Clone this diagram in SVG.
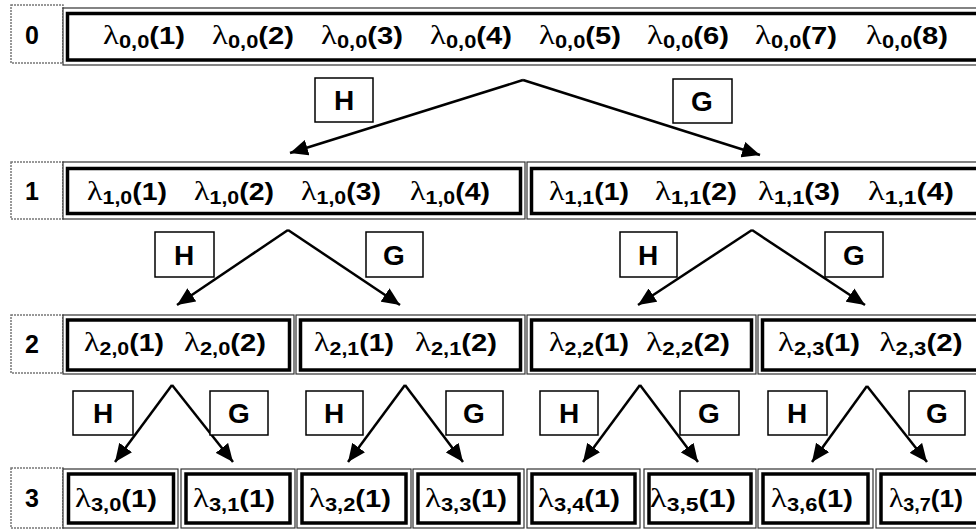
<svg xmlns="http://www.w3.org/2000/svg" width="976" height="529" viewBox="0 0 976 529">
<style>
.bg{fill:#fff}
.lbl{fill:#fff;stroke:#777;stroke-width:1.5;stroke-dasharray:2 1}
.lt{font-family:"Liberation Sans",Arial,sans-serif;font-weight:bold;font-size:25px;fill:#000;text-anchor:middle}
.outer{fill:#fff;stroke:#333;stroke-width:1.2}
.inner{fill:none;stroke:#000;stroke-width:3.5}
.t{font-family:"Liberation Sans",Arial,sans-serif;font-weight:bold;font-size:24px;fill:#000;text-anchor:middle}
.lam{font-family:"Liberation Serif","Times New Roman",serif;font-weight:normal;font-size:27px}
.sub{font-size:18px}
.op{fill:#fff;stroke:#000;stroke-width:1.5}
.ot{font-family:"Liberation Sans",Arial,sans-serif;font-weight:bold;font-size:28px;fill:#000;text-anchor:middle}
.c{fill:none;stroke:#000;stroke-width:2.5}
</style>
<defs>
<marker id="ah" markerUnits="userSpaceOnUse" markerWidth="20" markerHeight="16" refX="18" refY="8" orient="auto">
<path d="M0,0 L18,8 L0,16 z" fill="#000"/>
</marker>
</defs>
<rect class="bg" x="0" y="0" width="976" height="529"/>

<g id="levels">
<g id="level0"><rect class="lbl" x="11" y="5" width="52" height="58"/><text class="lt" x="32" y="44">0</text></g>
<g id="level1"><rect class="lbl" x="11" y="162" width="52" height="57"/><text class="lt" x="32" y="200">1</text></g>
<g id="level2"><rect class="lbl" x="11" y="315" width="52" height="58"/><text class="lt" x="32" y="353">2</text></g>
<g id="level3"><rect class="lbl" x="11" y="468" width="52" height="60"/><text class="lt" x="32" y="507">3</text></g>
</g>

<g id="n00">
<rect class="outer" x="63" y="8" width="930" height="57"/>
<rect class="inner" x="67.5" y="13.5" width="920" height="46.5"/>
<text class="t" x="144" y="44" textLength="82" lengthAdjust="spacingAndGlyphs"><tspan class="lam">λ</tspan><tspan class="sub" dy="4">0,0</tspan><tspan dy="-4">(1)</tspan></text>
<text class="t" x="253" y="44" textLength="82" lengthAdjust="spacingAndGlyphs"><tspan class="lam">λ</tspan><tspan class="sub" dy="4">0,0</tspan><tspan dy="-4">(2)</tspan></text>
<text class="t" x="362" y="44" textLength="82" lengthAdjust="spacingAndGlyphs"><tspan class="lam">λ</tspan><tspan class="sub" dy="4">0,0</tspan><tspan dy="-4">(3)</tspan></text>
<text class="t" x="471" y="44" textLength="82" lengthAdjust="spacingAndGlyphs"><tspan class="lam">λ</tspan><tspan class="sub" dy="4">0,0</tspan><tspan dy="-4">(4)</tspan></text>
<text class="t" x="580" y="44" textLength="82" lengthAdjust="spacingAndGlyphs"><tspan class="lam">λ</tspan><tspan class="sub" dy="4">0,0</tspan><tspan dy="-4">(5)</tspan></text>
<text class="t" x="688" y="44" textLength="82" lengthAdjust="spacingAndGlyphs"><tspan class="lam">λ</tspan><tspan class="sub" dy="4">0,0</tspan><tspan dy="-4">(6)</tspan></text>
<text class="t" x="796" y="44" textLength="82" lengthAdjust="spacingAndGlyphs"><tspan class="lam">λ</tspan><tspan class="sub" dy="4">0,0</tspan><tspan dy="-4">(7)</tspan></text>
<text class="t" x="907" y="44" textLength="82" lengthAdjust="spacingAndGlyphs"><tspan class="lam">λ</tspan><tspan class="sub" dy="4">0,0</tspan><tspan dy="-4">(8)</tspan></text>
</g>

<g id="n10">
<rect class="outer" x="63" y="162" width="462" height="57"/>
<rect class="inner" x="67.5" y="168.5" width="453" height="45"/>
<text class="t" x="127" y="200" textLength="80" lengthAdjust="spacingAndGlyphs"><tspan class="lam">λ</tspan><tspan class="sub" dy="4">1,0</tspan><tspan dy="-4">(1)</tspan></text>
<text class="t" x="234" y="200" textLength="80" lengthAdjust="spacingAndGlyphs"><tspan class="lam">λ</tspan><tspan class="sub" dy="4">1,0</tspan><tspan dy="-4">(2)</tspan></text>
<text class="t" x="341" y="200" textLength="80" lengthAdjust="spacingAndGlyphs"><tspan class="lam">λ</tspan><tspan class="sub" dy="4">1,0</tspan><tspan dy="-4">(3)</tspan></text>
<text class="t" x="450" y="200" textLength="80" lengthAdjust="spacingAndGlyphs"><tspan class="lam">λ</tspan><tspan class="sub" dy="4">1,0</tspan><tspan dy="-4">(4)</tspan></text>
</g>
<g id="n11">
<rect class="outer" x="527" y="162" width="466" height="57"/>
<rect class="inner" x="531.5" y="168.5" width="457" height="45"/>
<text class="t" x="589" y="200" textLength="80" lengthAdjust="spacingAndGlyphs"><tspan class="lam">λ</tspan><tspan class="sub" dy="4">1,1</tspan><tspan dy="-4">(1)</tspan></text>
<text class="t" x="696" y="200" textLength="82" lengthAdjust="spacingAndGlyphs"><tspan class="lam">λ</tspan><tspan class="sub" dy="4">1,1</tspan><tspan dy="-4">(2)</tspan></text>
<text class="t" x="799" y="200" textLength="82" lengthAdjust="spacingAndGlyphs"><tspan class="lam">λ</tspan><tspan class="sub" dy="4">1,1</tspan><tspan dy="-4">(3)</tspan></text>
<text class="t" x="911" y="200" textLength="86" lengthAdjust="spacingAndGlyphs"><tspan class="lam">λ</tspan><tspan class="sub" dy="4">1,1</tspan><tspan dy="-4">(4)</tspan></text>
</g>

<g id="n20">
<rect class="outer" x="63" y="315" width="231" height="59"/>
<rect class="inner" x="67.5" y="320" width="222" height="50"/>
<text class="t" x="124" y="351" textLength="80" lengthAdjust="spacingAndGlyphs"><tspan class="lam">λ</tspan><tspan class="sub" dy="4">2,0</tspan><tspan dy="-4">(1)</tspan></text>
<text class="t" x="225" y="351" textLength="82" lengthAdjust="spacingAndGlyphs"><tspan class="lam">λ</tspan><tspan class="sub" dy="4">2,0</tspan><tspan dy="-4">(2)</tspan></text>
</g>
<g id="n21">
<rect class="outer" x="296" y="315" width="229" height="59"/>
<rect class="inner" x="300.5" y="320" width="220" height="50"/>
<text class="t" x="354" y="351" textLength="80" lengthAdjust="spacingAndGlyphs"><tspan class="lam">λ</tspan><tspan class="sub" dy="4">2,1</tspan><tspan dy="-4">(1)</tspan></text>
<text class="t" x="456" y="351" textLength="82" lengthAdjust="spacingAndGlyphs"><tspan class="lam">λ</tspan><tspan class="sub" dy="4">2,1</tspan><tspan dy="-4">(2)</tspan></text>
</g>
<g id="n22">
<rect class="outer" x="527" y="315" width="229" height="59"/>
<rect class="inner" x="531.5" y="320" width="220" height="50"/>
<text class="t" x="589" y="351" textLength="80" lengthAdjust="spacingAndGlyphs"><tspan class="lam">λ</tspan><tspan class="sub" dy="4">2,2</tspan><tspan dy="-4">(1)</tspan></text>
<text class="t" x="688" y="351" textLength="84" lengthAdjust="spacingAndGlyphs"><tspan class="lam">λ</tspan><tspan class="sub" dy="4">2,2</tspan><tspan dy="-4">(2)</tspan></text>
</g>
<g id="n23">
<rect class="outer" x="758" y="315" width="235" height="59"/>
<rect class="inner" x="762.5" y="320" width="226" height="50"/>
<text class="t" x="819" y="351" textLength="82" lengthAdjust="spacingAndGlyphs"><tspan class="lam">λ</tspan><tspan class="sub" dy="4">2,3</tspan><tspan dy="-4">(1)</tspan></text>
<text class="t" x="921" y="351" textLength="83" lengthAdjust="spacingAndGlyphs"><tspan class="lam">λ</tspan><tspan class="sub" dy="4">2,3</tspan><tspan dy="-4">(2)</tspan></text>
</g>

<g id="n30">
<rect class="outer" x="63" y="469" width="115" height="59"/>
<rect class="inner" x="68.5" y="474" width="105" height="49"/>
<text class="t" x="116" y="507" textLength="82" lengthAdjust="spacingAndGlyphs"><tspan class="lam">λ</tspan><tspan class="sub" dy="4">3,0</tspan><tspan dy="-4">(1)</tspan></text>
</g>
<g id="n31">
<rect class="outer" x="181" y="469" width="114" height="59"/>
<rect class="inner" x="186" y="474" width="104" height="49"/>
<text class="t" x="234" y="507" textLength="82" lengthAdjust="spacingAndGlyphs"><tspan class="lam">λ</tspan><tspan class="sub" dy="4">3,1</tspan><tspan dy="-4">(1)</tspan></text>
</g>
<g id="n32">
<rect class="outer" x="297" y="469" width="114" height="59"/>
<rect class="inner" x="302" y="474" width="104" height="49"/>
<text class="t" x="350" y="507" textLength="82" lengthAdjust="spacingAndGlyphs"><tspan class="lam">λ</tspan><tspan class="sub" dy="4">3,2</tspan><tspan dy="-4">(1)</tspan></text>
</g>
<g id="n33">
<rect class="outer" x="413" y="469" width="111" height="59"/>
<rect class="inner" x="418" y="474" width="101" height="49"/>
<text class="t" x="466" y="507" textLength="82" lengthAdjust="spacingAndGlyphs"><tspan class="lam">λ</tspan><tspan class="sub" dy="4">3,3</tspan><tspan dy="-4">(1)</tspan></text>
</g>
<g id="n34">
<rect class="outer" x="527" y="469" width="113" height="59"/>
<rect class="inner" x="532" y="474" width="103" height="49"/>
<text class="t" x="579" y="507" textLength="82" lengthAdjust="spacingAndGlyphs"><tspan class="lam">λ</tspan><tspan class="sub" dy="4">3,4</tspan><tspan dy="-4">(1)</tspan></text>
</g>
<g id="n35">
<rect class="outer" x="644" y="469" width="112" height="59"/>
<rect class="inner" x="649" y="474" width="102" height="49"/>
<text class="t" x="693" y="507" textLength="86" lengthAdjust="spacingAndGlyphs"><tspan class="lam">λ</tspan><tspan class="sub" dy="4">3,5</tspan><tspan dy="-4">(1)</tspan></text>
</g>
<g id="n36">
<rect class="outer" x="758" y="469" width="115" height="59"/>
<rect class="inner" x="763" y="474" width="105" height="49"/>
<text class="t" x="812" y="507" textLength="82" lengthAdjust="spacingAndGlyphs"><tspan class="lam">λ</tspan><tspan class="sub" dy="4">3,6</tspan><tspan dy="-4">(1)</tspan></text>
</g>
<g id="n37">
<rect class="outer" x="876" y="469" width="117" height="59"/>
<rect class="inner" x="881" y="474" width="107" height="49"/>
<text class="t" x="926" y="507" textLength="74" lengthAdjust="spacingAndGlyphs"><tspan class="lam">λ</tspan><tspan class="sub" dy="4">3,7</tspan><tspan dy="-4">(1)</tspan></text>
</g>

<g id="connectors">
<polyline class="c" points="523,80 290,153" marker-end="url(#ah)"/>
<polyline class="c" points="523,80 760,155" marker-end="url(#ah)"/>
<polyline class="c" points="288,230 177,305" marker-end="url(#ah)"/>
<polyline class="c" points="288,230 400,305" marker-end="url(#ah)"/>
<polyline class="c" points="752,230 638,305" marker-end="url(#ah)"/>
<polyline class="c" points="752,230 865,305" marker-end="url(#ah)"/>
<polyline class="c" points="172,385 115,462" marker-end="url(#ah)"/>
<polyline class="c" points="172,385 233,462" marker-end="url(#ah)"/>
<polyline class="c" points="405,385 348,462" marker-end="url(#ah)"/>
<polyline class="c" points="405,385 463,462" marker-end="url(#ah)"/>
<polyline class="c" points="640,385 583,462" marker-end="url(#ah)"/>
<polyline class="c" points="640,385 698,462" marker-end="url(#ah)"/>
<polyline class="c" points="867,386 812,462" marker-end="url(#ah)"/>
<polyline class="c" points="867,386 927,462" marker-end="url(#ah)"/>
</g>

<g id="filters">
<g id="h0"><rect class="op" x="315" y="78" width="58" height="44"/><text class="ot" x="344" y="110">H</text></g>
<g id="g0"><rect class="op" x="673" y="79" width="59" height="44"/><text class="ot" x="702" y="111">G</text></g>
<g id="h10"><rect class="op" x="155" y="232" width="59" height="45"/><text class="ot" x="184" y="265">H</text></g>
<g id="g10"><rect class="op" x="366" y="232" width="57" height="45"/><text class="ot" x="394" y="265">G</text></g>
<g id="h11"><rect class="op" x="620" y="232" width="57" height="45"/><text class="ot" x="648" y="265">H</text></g>
<g id="g11"><rect class="op" x="825" y="232" width="58" height="45"/><text class="ot" x="854" y="265">G</text></g>
<g id="h20"><rect class="op" x="73" y="391" width="60" height="44"/><text class="ot" x="103" y="423">H</text></g>
<g id="g20"><rect class="op" x="210" y="391" width="58" height="44"/><text class="ot" x="239" y="423">G</text></g>
<g id="h21"><rect class="op" x="306" y="391" width="57" height="44"/><text class="ot" x="334" y="423">H</text></g>
<g id="g21"><rect class="op" x="446" y="391" width="57" height="44"/><text class="ot" x="474" y="423">G</text></g>
<g id="h22"><rect class="op" x="540" y="391" width="58" height="44"/><text class="ot" x="569" y="423">H</text></g>
<g id="g22"><rect class="op" x="680" y="391" width="59" height="44"/><text class="ot" x="709" y="423">G</text></g>
<g id="h23"><rect class="op" x="768" y="391" width="59" height="44"/><text class="ot" x="797" y="423">H</text></g>
<g id="g23"><rect class="op" x="909" y="391" width="56" height="44"/><text class="ot" x="937" y="423">G</text></g>
</g>
</svg>
